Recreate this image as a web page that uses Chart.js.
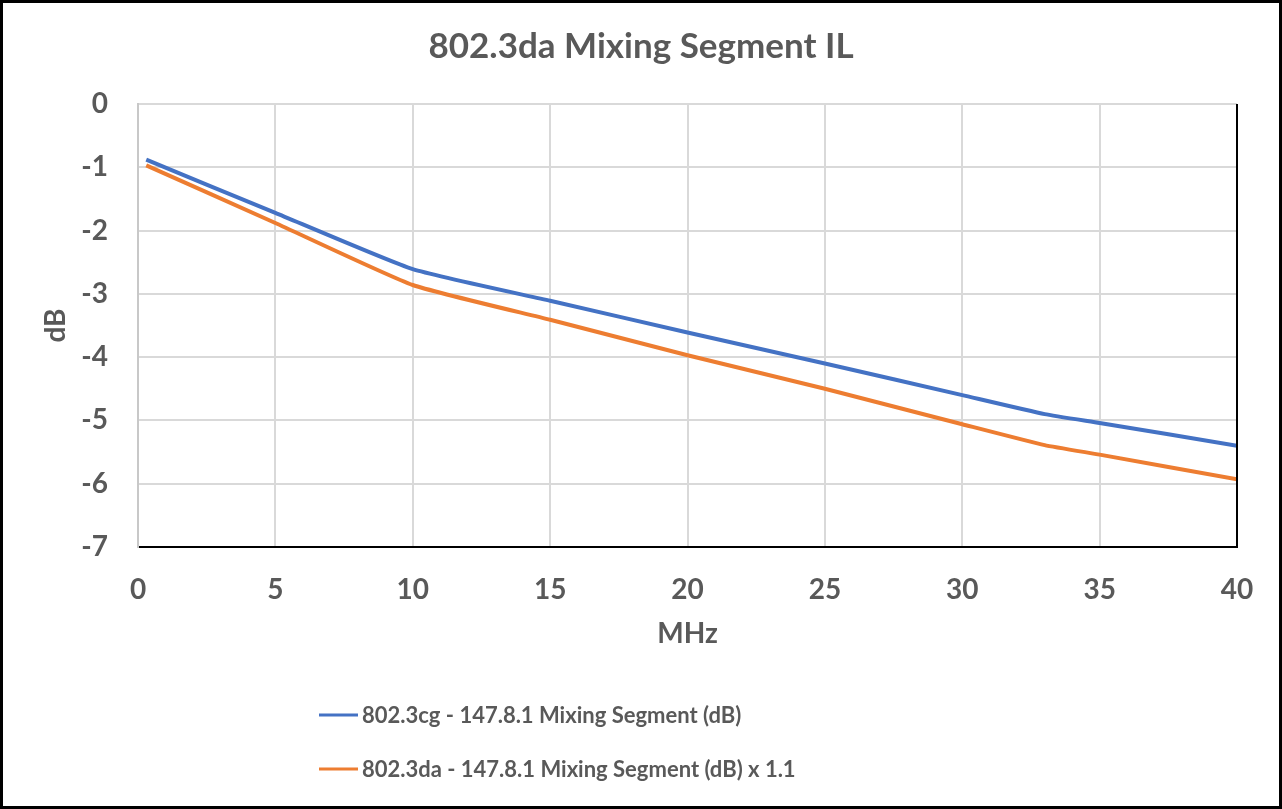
<!DOCTYPE html>
<html><head><meta charset="utf-8">
<script src="https://cdn.jsdelivr.net/npm/chart.js@4.4.1/dist/chart.umd.min.js"></script>
<style>html,body{margin:0;padding:0;background:#fff}#wrap{width:1282px;height:809px;position:relative}canvas{display:block}</style>
</head><body><div id="wrap"><canvas id="c" width="1282" height="809"></canvas></div>
<script>
const chartTitle = '802.3da Mixing Segment IL';
const xAxisTitle = 'MHz';
const yAxisTitle = 'dB';
const frequencyMHz = [0.3, 5, 10, 15, 20, 25, 30, 33, 35, 40];
const il802_3cg = [-0.88, -1.72, -2.61, -3.11, -3.61, -4.10, -4.60, -4.90, -5.04, -5.40];
const il802_3da = [-0.97, -1.88, -2.86, -3.41, -3.97, -4.50, -5.06, -5.39, -5.54, -5.93];
const seriesLabels = ['802.3cg - 147.8.1 Mixing Segment (dB)', '802.3da - 147.8.1 Mixing Segment (dB) x 1.1'];
const seriesColors = ['#4472C4', '#ED7D31'];
const xTickValues = [0, 5, 10, 15, 20, 25, 30, 35, 40];
const yTickValues = [0, -1, -2, -3, -4, -5, -6, -7];

const FONT = 'Lato';
const TEXT = '#595959';

const toPoints = (ys) => frequencyMHz.map((x, i) => ({x, y: ys[i]}));

const frame = {
  id: 'frame',
  afterDraw(chart) {
    const {ctx, scales: {x, y}} = chart;
    ctx.save();
    ctx.strokeStyle = '#000';
    ctx.lineWidth = 2;
    const xr = x.getPixelForValue(40);
    ctx.beginPath();
    ctx.moveTo(xr, y.getPixelForValue(0));
    ctx.lineTo(xr, y.getPixelForValue(-7) + 1);
    ctx.stroke();
    const rows = [715, 769];
    chart.data.datasets.forEach((ds, i) => {
      ctx.strokeStyle = ds.borderColor;
      ctx.lineWidth = 3;
      ctx.beginPath();
      ctx.moveTo(319, rows[i]);
      ctx.lineTo(358, rows[i]);
      ctx.stroke();
      ctx.fillStyle = TEXT;
      ctx.font = 'bold 22px ' + FONT;
      ctx.textBaseline = 'middle';
      ctx.textAlign = 'left';
      ctx.fillText(ds.label, 362, rows[i] + 1);
    });
    ctx.strokeStyle = '#000';
    ctx.lineWidth = 3;
    ctx.strokeRect(1.5, 1.5, chart.width - 3, chart.height - 3);
    ctx.restore();
  }
};

new Chart(document.getElementById('c'), {
  type: 'line',
  data: {
    datasets: [
      {label: seriesLabels[0], data: toPoints(il802_3cg), borderColor: seriesColors[0], backgroundColor: seriesColors[0], borderWidth: 4, pointRadius: 0, tension: 0.15, fill: false},
      {label: seriesLabels[1], data: toPoints(il802_3da), borderColor: seriesColors[1], backgroundColor: seriesColors[1], borderWidth: 4, pointRadius: 0, tension: 0.15, fill: false}
    ]
  },
  options: {
    responsive: false,
    animation: false,
    devicePixelRatio: 1,
    layout: {padding: {left: 45, right: 45, top: 0, bottom: 130}},
    plugins: {
      legend: {display: false},
      tooltip: {enabled: false},
      title: {display: true, text: chartTitle, color: TEXT, font: {family: FONT, size: 35, weight: 'bold'}, padding: {top: 26, bottom: 36}}
    },
    scales: {
      x: {
        type: 'linear', min: 0, max: 40,
        afterBuildTicks: (s) => { s.ticks = xTickValues.map(v => ({value: v})); },
        afterFit: (s) => { s.height = 132; },
        grid: {color: '#d9d9d9', lineWidth: 2, drawTicks: false},
        border: {color: '#000', width: 2},
        ticks: {color: TEXT, font: {family: FONT, size: 28, weight: 'bold'}, padding: 26, maxRotation: 0},
        title: {display: true, text: xAxisTitle, color: TEXT, font: {family: FONT, size: 28, weight: 'bold'}, padding: {top: 0, bottom: 28}}
      },
      y: {
        type: 'linear', min: -7, max: 0,
        afterBuildTicks: (s) => { s.ticks = yTickValues.map(v => ({value: v})); },
        afterFit: (s) => { s.width = 93; },
        grid: {color: '#d9d9d9', lineWidth: 2, drawTicks: false},
        border: {color: '#c8c8c8', width: 2},
        ticks: {color: TEXT, font: {family: FONT, size: 28, weight: 'bold'}, padding: 30},
        title: {display: true, text: yAxisTitle, color: TEXT, font: {family: FONT, size: 28, weight: 'bold', lineHeight: 0.8}, padding: {top: 0, bottom: 0}}
      }
    }
  },
  plugins: [frame]
});
</script>
</body></html>
